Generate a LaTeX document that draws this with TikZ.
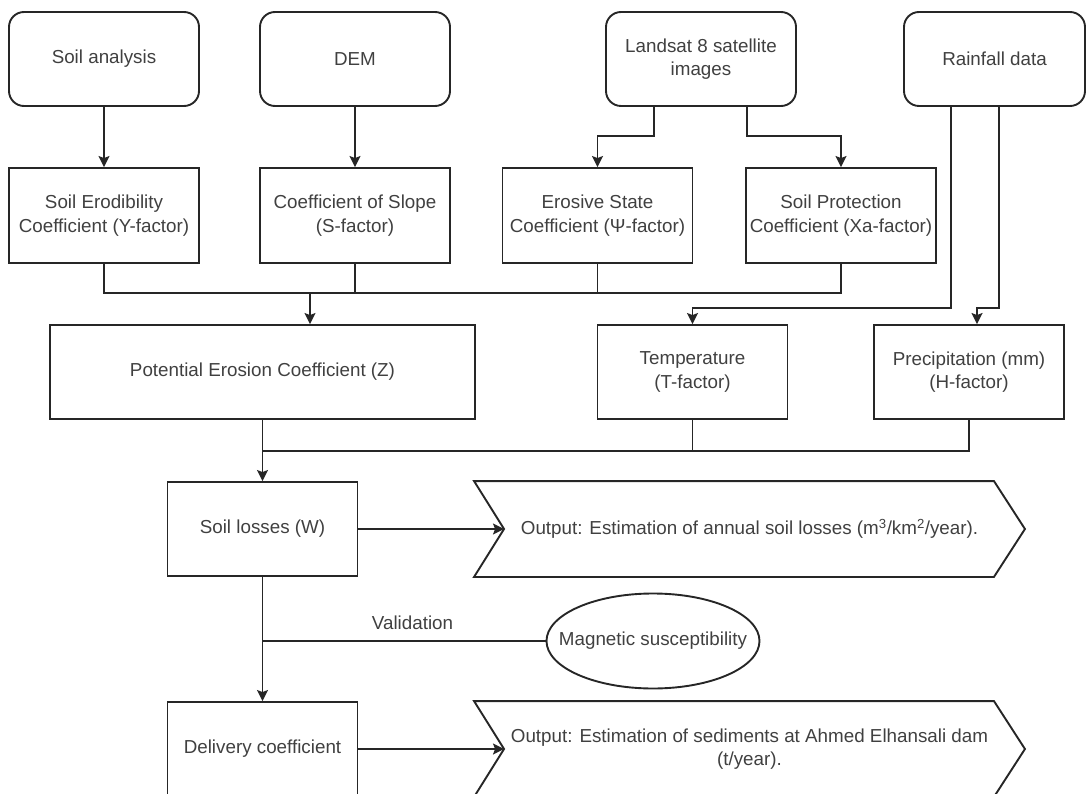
\documentclass[tikz,border=0pt]{standalone}
\usepackage{fontspec}
\setmainfont{Liberation Sans}
\usetikzlibrary{positioning,arrows.meta,shapes.geometric}
\tikzset{node distance=156.5pt, auto,
  srcbox/.style={draw, rounded corners=15pt, minimum width=190pt, minimum height=94pt, align=center},
  facbox/.style={draw, minimum width=190pt, minimum height=95pt, align=center},
  outbox/.style={minimum width=549pt, minimum height=94pt, align=center},
  arr/.style={-{Stealth[length=11pt,width=11pt,inset=2pt]}}
}

\begin{document}
\begin{tikzpicture}[x=1pt, y=-1pt, line width=1.9pt, draw=black!85, text=black!75,
                    font=\fontsize{18.8}{23.5}\selectfont]
             \useasboundingbox (0,0) rectangle (1087,794);

             \node (soil) [srcbox] at (104,59) {Soil analysis};
             \node (dem)  [srcbox] at (355,59) {DEM};
             \node (land) [srcbox] at (701,59) {Landsat 8 satellite\\images};
             \node (rain) [srcbox, minimum width=181pt] at (994.5,59) {Rainfall data};

             \node (erod)  [facbox, below of=soil] {Soil Erodibility\\Coefficient (Y-factor)};
             \node (slope) [facbox, below of=dem] {Coefficient of Slope\\(S-factor)};
             \node (eros)  [facbox] at (597.5,215.5) {Erosive State\\Coefficient (Ψ-factor)};
             \node (prot)  [facbox] at (841,215.5) {Soil Protection\\Coefficient (Xa-factor)};

             \node (pot)  [facbox, minimum width=425pt, minimum height=94pt] at (262.5,372) {Potential Erosion Coefficient (Z)};
             \node (temp) [facbox, minimum height=94pt] at (692.5,372) {Temperature\\(T-factor)};
             \node (prec) [facbox, minimum height=94pt] at (969,372) {Precipitation (mm)\\(H-factor)};

             \node (loss)  [facbox, minimum height=94pt] at (262.5,529) {Soil losses (W)};
             \node (deliv) [facbox, minimum height=94pt, below of=loss, node distance=220pt] {Delivery coefficient};

             \node (out1) [outbox] at (749.5,529) {Output: Estimation of annual soil losses (m\textsuperscript{3}/km\textsuperscript{2}/year).};
             \node (out2) [outbox] at (749.5,749) {Output: Estimation of sediments at Ahmed Elhansali dam\\(t/year).};
             \node (mag) [draw, ellipse, minimum width=213pt, minimum height=95pt,
                          label={center:Magnetic susceptibility}] at (653,641) {};

             \draw (out1.north west) -- ([xshift=30pt]out1.west) -- (out1.south west)
                   -- ([xshift=-31pt]out1.south east) -- (out1.east) -- ([xshift=-31pt]out1.north east) -- cycle;
             \draw (out2.north west) -- ([xshift=30pt]out2.west) -- (out2.south west)
                   -- ([xshift=-31pt]out2.south east) -- (out2.east) -- ([xshift=-31pt]out2.north east) -- cycle;
             \coordinate (notch1) at ([xshift=30pt]out1.west);
             \coordinate (notch2) at ([xshift=30pt]out2.west);
             \coordinate (bus1) at (0,293);
             \coordinate (bus2) at (0,451);

             \draw [arr] (soil) to (erod);
             \draw [arr] (dem) to (slope);
             \draw [arr] ([xshift=-47pt]land.south) |- ([yshift=31pt]eros.north) -- (eros.north);
             \draw [arr] ([xshift=46pt]land.south) |- ([yshift=31pt]prot.north) -- (prot.north);

             \draw (erod.south) |- (prot.south |- bus1) -- (prot.south);
             \draw (slope.south) -- (slope.south |- bus1);
             \draw (eros.south) -- (eros.south |- bus1);
             \draw [arr] ([xshift=47.5pt]pot.north |- bus1) -- ([xshift=47.5pt]pot.north);

             \draw [arr] ([xshift=-43.5pt]rain.south) |- ([yshift=16pt]temp.north) -- (temp.north);
             \draw [arr] ([xshift=4.5pt]rain.south) |- ([xshift=8pt,yshift=16pt]prec.north) -- ([xshift=8pt]prec.north);

             \draw [arr] (pot.south) -- (loss.north);
             \draw (prec.south) |- (pot.south |- bus2);
             \draw (temp.south) -- (temp.south |- bus2);

             \draw [arr] (loss.east) -- (notch1);
             \draw [arr] (loss.south) -- (deliv.north);
             \draw (mag.west) -- (mag.west -| loss.south) node [pos=0.47, above=7pt] {Validation};
             \draw [arr] (deliv.east) -- (notch2);
          \end{tikzpicture}
\end{document}
